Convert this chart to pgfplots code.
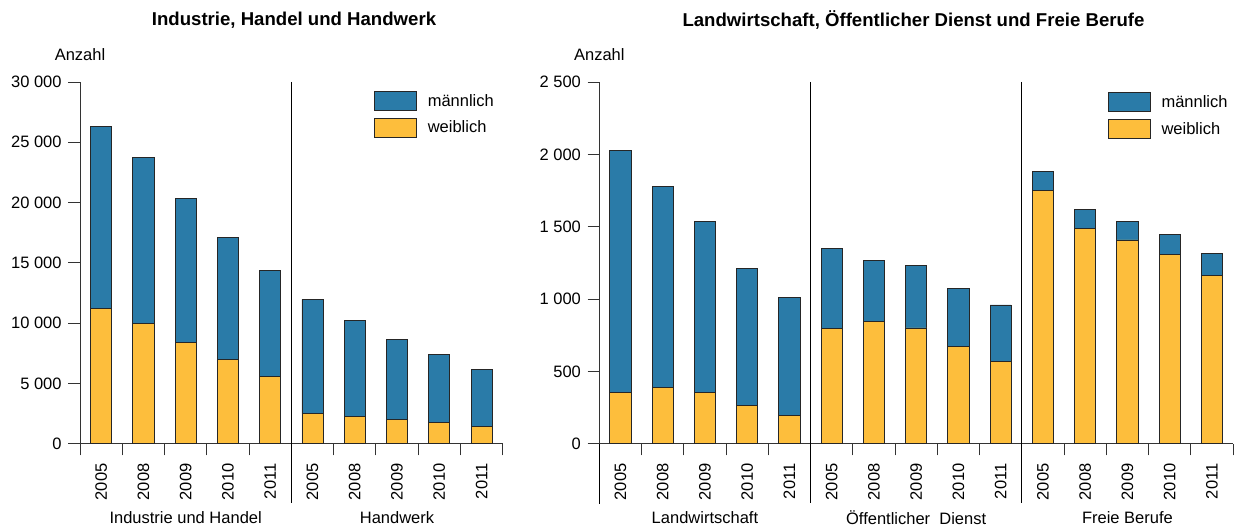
\documentclass[border=0pt]{standalone}
\usepackage{pgfplots}
\pgfplotsset{compat=1.18}
\usepackage{fontspec}
\setmainfont{Liberation Sans}
\definecolor{cblue}{HTML}{2A7BA8}
\definecolor{cyell}{HTML}{FDBE3C}
\newcommand{\fnt}{\fontsize{16.5bp}{19.8bp}\selectfont}
\newcommand{\tfnt}{\fontsize{18.6bp}{22bp}\selectfont\bfseries}
\tikzset{
  mbar/.style={fill=cblue, draw=black!85, line width=0.8bp},
  wbar/.style={fill=cyell, draw=black!85, line width=0.8bp},
}
\pgfplotsset{
  mybase/.style={
    scale only axis, clip=false,
    ymin=0,
    axis x line*=bottom, axis y line*=left,
    axis line style={black!80, line width=0.9bp},
    tick style={black!80, line width=0.9bp},
    tick align=outside,
    major tick length=11.7bp,
    scaled y ticks=false,
    /pgf/number format/.cd, 1000 sep={\ }, assume math mode=true, /pgfplots/.cd,
    tick label style={font=\fnt},
    yticklabel style={inner sep=0pt, xshift=-6.5bp},
    xticklabels={},
    extra x tick style={tick style={draw=none}},
    extra x tick labels={2005,2008,2009,2010,2011,2005,2008,2009,2010,2011,2005,2008,2009,2010,2011},
    xticklabel style={rotate=90, anchor=east, inner sep=0pt},
    xticklabel shift=8bp,
    ybar stacked, bar width=0.5, bar shift=0pt,
    legend style={draw=none, fill=none, inner sep=0pt, outer sep=0pt,
      anchor=north west, row sep=7bp, column sep=11bp,
      nodes={inner sep=0pt, font=\fnt}},
    legend cell align=left,
  },
}
\begin{document}
\begin{tikzpicture}[x=1bp,y=1bp]
\useasboundingbox (0,0) rectangle (1237,530);
\node[font=\tfnt] at (294,510) {Industrie, Handel und Handwerk};
\node[font=\tfnt] at (913.5,510) {Landwirtschaft, Öffentlicher Dienst und Freie Berufe};

\begin{axis}[mybase,
  at={(80bp,86.3bp)}, anchor=south west,
  width=422.7bp, height=361.7bp,
  xmin=-0.5, xmax=9.5, ymax=30000,
  ytick={0,5000,...,30000},
  xtick={-0.5,0.5,...,9.5},
  extra x ticks={0,1,...,9},
  legend style={at={(0.6955,0.975)}},
]
\addplot[wbar, forget plot] coordinates {(0,11230) (1,9980) (2,8410) (3,7000) (4,5590) (5,2490) (6,2240) (7,2020) (8,1770) (9,1440)};
\addplot[mbar, forget plot] coordinates {(0,15070) (1,13770) (2,11910) (3,10140) (4,8790) (5,9480) (6,7960) (7,6630) (8,5610) (9,4730)};
\addlegendimage{legend image code/.code={\draw[mbar] (0bp,-9.5bp) rectangle (42bp,9.5bp);}}
\addlegendentry{männlich}
\addlegendimage{legend image code/.code={\draw[wbar] (0bp,-9.5bp) rectangle (42bp,9.5bp);}}
\addlegendentry{weiblich}
\draw[black, line width=0.9bp] (axis cs:4.5,30000) -- ([yshift=-59.6bp]axis cs:4.5,0);
\node[font=\fnt] at ([yshift=27.5bp]axis cs:-0.5,30000) {Anzahl};
\node[font=\fnt] at ([yshift=-74bp]axis cs:2,0) {Industrie und Handel};
\node[font=\fnt] at ([yshift=-74bp]axis cs:7,0) {Handwerk};
\end{axis}

\begin{axis}[mybase,
  at={(599.3bp,86.3bp)}, anchor=south west,
  width=633.7bp, height=361.7bp,
  xmin=-0.5, xmax=14.5, ymax=2500,
  ytick={0,500,...,2500},
  xtick={-0.5,0.5,...,14.5},
  extra x ticks={0,1,...,14},
  legend style={at={(0.8023,0.9715)}},
]
\addplot[wbar, forget plot] coordinates {(0,355) (1,389) (2,353) (3,265) (4,198) (5,795) (6,843) (7,800) (8,671) (9,567) (10,1753) (11,1486) (12,1408) (13,1306) (14,1164)};
\addplot[mbar, forget plot] coordinates {(0,1673) (1,1387) (2,1186) (3,945) (4,814) (5,555) (6,422) (7,430) (8,400) (9,392) (10,129) (11,134) (12,127) (13,141) (14,152)};
\addlegendimage{legend image code/.code={\draw[mbar] (0bp,-9.5bp) rectangle (42bp,9.5bp);}}
\addlegendentry{männlich}
\addlegendimage{legend image code/.code={\draw[wbar] (0bp,-9.5bp) rectangle (42bp,9.5bp);}}
\addlegendentry{weiblich}
\draw[black, line width=0.9bp] (axis cs:-0.5,0) -- ([yshift=-60.3bp]axis cs:-0.5,0);
\draw[black, line width=0.9bp] (axis cs:4.5,2500) -- ([yshift=-59.6bp]axis cs:4.5,0);
\draw[black, line width=0.9bp] (axis cs:9.5,2500) -- ([yshift=-59.6bp]axis cs:9.5,0);
\node[font=\fnt] at ([yshift=27.5bp]axis cs:-0.5,2500) {Anzahl};
\node[font=\fnt] at ([yshift=-74bp]axis cs:2,0) {Landwirtschaft};
\node[font=\fnt] at ([yshift=-74bp]axis cs:7,0) {Öffentlicher~ Dienst};
\node[font=\fnt] at ([yshift=-74bp]axis cs:12,0) {Freie Berufe};
\end{axis}
\end{tikzpicture}
\end{document}
